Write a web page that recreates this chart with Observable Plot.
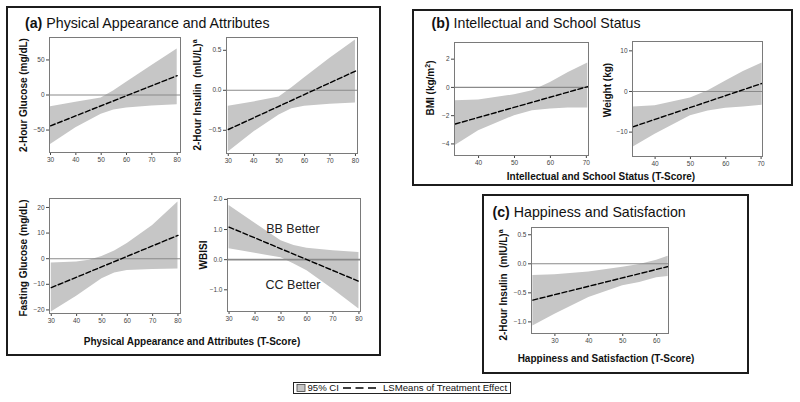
<!DOCTYPE html>
<html><head><meta charset="utf-8">
<script src="https://cdn.jsdelivr.net/npm/d3@7"></script>
<script src="https://cdn.jsdelivr.net/npm/@observablehq/plot@0.6"></script>
<style>
html,body{margin:0;padding:0;background:#fff;}
#root{position:relative;width:800px;height:402px;overflow:hidden;font-family:"Liberation Sans",Arial,sans-serif;background:#fff;}
#root svg.sub{position:absolute;}
#overlay{position:absolute;left:0;top:0;pointer-events:none;}
</style></head><body><div id="root"></div>
<script>
// ---------- DATA ----------
// (a) Physical Appearance and Attributes
const glu2hX   = [30, 40, 50, 55, 60, 70, 80];
const glu2hLo  = [-70.5, -46.7, -27.6, -21.4, -18.6, -15.7, -13.8];
const glu2hHi  = [-16.7, -10.5, -4.3, 6.2, 18.1, 41.9, 65.7];
const glu2hLineX = [30, 80];
const glu2hLineY = [-44, 27.6];

const ins2hX   = [30, 40, 50, 55, 60, 70, 80];
const ins2hLo  = [-0.77, -0.52, -0.31, -0.23, -0.20, -0.175, -0.16];
const ins2hHi  = [-0.20, -0.146, -0.083, 0.033, 0.158, 0.40, 0.63];
const ins2hLineX = [30, 80];
const ins2hLineY = [-0.49, 0.24];

const fgluX    = [30, 40, 45, 50, 55, 60, 70, 80];
const fgluLo   = [-20.8, -14.7, -11.2, -7.8, -5.6, -4.6, -4.2, -4.0];
const fgluHi   = [-1.7, -1.3, -0.65, 0.9, 3.0, 5.9, 13, 22.1];
const fgluLineX = [30, 80];
const fgluLineY = [-11.3, 9.1];

const wbisiX   = [30, 40, 50, 55, 60, 70, 80];
const wbisiLo  = [0.36, 0.21, 0.06, -0.14, -0.37, -0.98, -1.64];
const wbisiHi  = [1.8, 1.21, 0.63, 0.47, 0.38, 0.30, 0.24];
const wbisiLineX = [30, 80];
const wbisiLineY = [1.08, -0.72];
const wbisiNotes = [{x: 54.6, y: 1.02, text: "BB Better"}, {x: 54.6, y: -0.84, text: "CC Better"}];

// (b) Intellectual and School Status
const bmiX     = [33.5, 40, 50, 55, 60, 65, 70.4];
const bmiLo    = [-4.12, -3.06, -2.0, -1.65, -1.53, -1.46, -1.46];
const bmiHi    = [-0.94, -0.89, -0.52, -0.24, 0.35, 1.06, 1.72];
const bmiLineX = [33.5, 70.4];
const bmiLineY = [-2.59, 0.06];

const wtX      = [33.7, 40, 50, 55, 60, 65, 70.3];
const wtLo     = [-13.7, -10.5, -6.0, -4.8, -4.1, -3.8, -3.4];
const wtHi     = [-3.8, -3.5, -1.6, 0.16, 2.6, 4.9, 7.0];
const wtLineX  = [33.7, 70.3];
const wtLineY  = [-8.7, 2.0];

// (c) Happiness and Satisfaction
const hapX     = [23.5, 30, 40, 50, 55, 60, 63.4];
const hapLo    = [-1.07, -0.87, -0.58, -0.38, -0.32, -0.24, -0.22];
const hapHi    = [-0.20, -0.19, -0.14, -0.06, -0.01, 0.06, 0.13];
const hapLineX = [23.5, 63.4];
const hapLineY = [-0.625, -0.047];

// tick values
const ticksA_X = [30, 40, 50, 60, 70, 80];
const ticksB_X = [40, 50, 60, 70];
const ticksC_X = [30, 40, 50, 60];

// ---------- LAYOUT ----------
const FONT = "'Liberation Sans', Arial, sans-serif";
const zip = (xs, lo, hi) => xs.map((x, i) => ({x, lo: lo[i], hi: hi[i]}));
const pts = (xs, ys) => xs.map((x, i) => ({x, y: ys[i]}));
const f1 = d3.format(".1f");

const subs = [
  {box: [49, 37, 180, 152], xd: [29.6, 81.3], yd: [-82, 82], xt: ticksA_X, yt: [-50, 0, 50],
   ci: zip(glu2hX, glu2hLo, glu2hHi), line: pts(glu2hLineX, glu2hLineY)},
  {box: [226, 37, 357, 153], xd: [29.3, 80.8], yd: [-0.79, 0.66], xt: ticksA_X, yt: [-0.5, 0, 0.5], fmt: f1,
   ci: zip(ins2hX, ins2hLo, ins2hHi), line: pts(ins2hLineX, ins2hLineY)},
  {box: [49, 198, 180, 313], xd: [29.3, 81.0], yd: [-21.4, 23.5], xt: ticksA_X, yt: [-20, -10, 0, 10, 20],
   ci: zip(fgluX, fgluLo, fgluHi), line: pts(fgluLineX, fgluLineY)},
  {box: [227, 198, 360, 311], xd: [29.4, 80.6], yd: [-1.72, 2.03], xt: ticksA_X, yt: [-1, 0, 1, 2],
   ci: zip(wbisiX, wbisiLo, wbisiHi), line: pts(wbisiLineX, wbisiLineY), notes: wbisiNotes, zeroW: 1.8},
  {box: [454, 42, 588, 155], xd: [33.3, 70.6], yd: [-4.82, 3.18], xt: ticksB_X, yt: [-4, -2, 0, 2],
   ci: zip(bmiX, bmiLo, bmiHi), line: pts(bmiLineX, bmiLineY)},
  {box: [632, 41, 762, 156], xd: [33.6, 70.4], yd: [-16, 12.3], xt: ticksB_X, yt: [-10, 0, 10],
   ci: zip(wtX, wtLo, wtHi), line: pts(wtLineX, wtLineY)},
  {box: [531, 227, 668, 333], xd: [23.1, 63.5], yd: [-1.2, 0.625], xt: ticksC_X, yt: [-1, -0.5, 0, 0.5], fmt: f1,
   ci: zip(hapX, hapLo, hapHi), line: pts(hapLineX, hapLineY)}
];

const root = document.getElementById("root");
const ML = 30, MR = 4, MT = 4, MB = 16;

for (const s of subs) {
  const [x0, y0, x1, y1] = s.box;
  const marks = [
    Plot.areaY(s.ci, {x: "x", y1: "lo", y2: "hi", fill: "#c6c6c6"}),
    Plot.ruleY([0], {stroke: "#8a8a8a", strokeWidth: s.zeroW || 1.1}),
    Plot.line(s.line, {x: "x", y: "y", stroke: "#000", strokeWidth: 1.4, strokeDasharray: "5,2.5"}),
    Plot.frame({stroke: "#7a7a7a", strokeWidth: 1})
  ];
  if (s.notes) marks.push(Plot.text(s.notes, {x: "x", y: "y", text: "text", fontSize: 12.5, fill: "#222", lineAnchor: "middle", textAnchor: "middle"}));
  const svg = Plot.plot({
    width: (x1 - x0) + ML + MR,
    height: (y1 - y0) + MT + MB,
    marginLeft: ML, marginRight: MR, marginTop: MT, marginBottom: MB,
    style: {fontFamily: FONT, fontSize: "6.5px", color: "#444", background: "transparent", overflow: "visible"},
    x: {domain: s.xd, ticks: s.xt, tickSize: 3, tickPadding: 2, label: null},
    y: {domain: s.yd, ticks: s.yt, tickSize: 3, tickPadding: 2, label: null, tickFormat: s.fmt},
    marks
  });
  svg.classList.add("sub");
  svg.style.left = (x0 - ML) + "px";
  svg.style.top = (y0 - MT) + "px";
  root.appendChild(svg);
}

// ---------- OVERLAY: boxes, titles, axis labels, legend ----------
const ov = d3.select(root).append("svg").attr("id", "overlay")
  .attr("width", 800).attr("height", 402).style("font-family", FONT);

const boxes = [[7, 7, 380, 355], [413, 10, 792, 185], [483, 195, 748, 373]];
for (const [a, b, c, d] of boxes)
  ov.append("rect").attr("x", a).attr("y", b).attr("width", c - a).attr("height", d - b)
    .attr("fill", "none").attr("stroke", "#1c1c1c").attr("stroke-width", 2);

const titles = [
  {x: 25, y: 28, tag: "(a)", text: " Physical Appearance and Attributes"},
  {x: 431.5, y: 28, tag: "(b)", text: " Intellectual and School Status"},
  {x: 492.5, y: 216.5, tag: "(c)", text: " Happiness and Satisfaction"}
];
for (const t of titles) {
  const el = ov.append("text").attr("x", t.x).attr("y", t.y).attr("font-size", 14.2).attr("fill", "#111");
  el.append("tspan").attr("font-weight", "bold").text(t.tag);
  el.append("tspan").attr("xml:space", "preserve").style("white-space", "pre").text(t.text);
}

const xLabels = [
  {x: 192, y: 345, text: "Physical Appearance and Attributes (T-Score)"},
  {x: 601, y: 180, text: "Intellectual and School Status (T-Score)"},
  {x: 606, y: 361.5, text: "Happiness and Satisfaction (T-Score)"}
];
for (const t of xLabels)
  ov.append("text").attr("x", t.x).attr("y", t.y).attr("text-anchor", "middle")
    .attr("font-size", 10).attr("font-weight", "bold").attr("fill", "#111").text(t.text);

const yLabels = [
  {x: 23, y: 95, text: "2-Hour Glucose (mg/dL)"},
  {x: 197, y: 95, text: "2-Hour Insulin\u00a0\u00a0(mIU/L)", sup: "a"},
  {x: 23, y: 258, text: "Fasting Glucose (mg/dL)"},
  {x: 203, y: 255, text: "WBISI"},
  {x: 430, y: 88, text: "BMI (kg/m", sup: "2", after: ")"},
  {x: 607, y: 90, text: "Weight (kg)"},
  {x: 503, y: 285, text: "2-Hour Insulin\u00a0\u00a0(mIU/L)", sup: "a"}
];
for (const t of yLabels) {
  const el = ov.append("text").attr("transform", `translate(${t.x},${t.y}) rotate(-90)`)
    .attr("text-anchor", "middle").attr("dy", "0.36em")
    .attr("font-size", 10).attr("font-weight", "bold").attr("fill", "#111");
  el.append("tspan").text(t.text);
  if (t.sup) el.append("tspan").attr("font-size", 7).attr("dy", -4).text(t.sup);
  if (t.after) el.append("tspan").attr("dy", 4).text(t.after);
}

// legend
const lg = ov.append("g");
lg.append("rect").attr("x", 293.5).attr("y", 382.5).attr("width", 217).attr("height", 11)
  .attr("fill", "#fff").attr("stroke", "#222").attr("stroke-width", 1);
lg.append("rect").attr("x", 297).attr("y", 384.5).attr("width", 8).attr("height", 7)
  .attr("fill", "#c6c6c6").attr("stroke", "#444").attr("stroke-width", 0.8);
lg.append("text").attr("x", 307.5).attr("y", 391.3).attr("font-size", 9.6).attr("fill", "#111").text("95% CI");
lg.append("line").attr("x1", 343).attr("x2", 380).attr("y1", 388).attr("y2", 388)
  .attr("stroke", "#000").attr("stroke-width", 1.4).attr("stroke-dasharray", "8,4.5");
lg.append("text").attr("x", 383).attr("y", 391.3).attr("font-size", 9.6).attr("fill", "#111").text("LSMeans of Treatment Effect");
</script></body></html>
